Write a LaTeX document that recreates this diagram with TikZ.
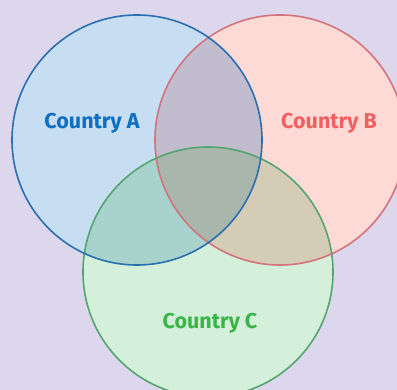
\documentclass[tikz,border=0pt]{standalone}
\usepackage{fontspec}
\setmainfont{Fira Sans}
\definecolor{bgc}{HTML}{DCD7EC}
\definecolor{fillA}{HTML}{C6DDF2}
\definecolor{fillB}{HTML}{FDDAD6}
\definecolor{fillC}{HTML}{D4EFDA}
\definecolor{fillAB}{HTML}{C2BCCF}
\definecolor{fillAC}{HTML}{A8D2CC}
\definecolor{fillBC}{HTML}{D5CCB5}
\definecolor{fillABC}{HTML}{A8B6AC}
\definecolor{lineA}{HTML}{2A6FB0}
\definecolor{lineB}{HTML}{D4737C}
\definecolor{lineC}{HTML}{55A570}
\definecolor{textA}{HTML}{0E6EC2}
\definecolor{textB}{HTML}{F0605E}
\definecolor{textC}{HTML}{3AB548}
\tikzset{
  setline/.style={line width=1.6pt},
  setlabel/.style={font=\bfseries\fontsize{21.5}{24}\selectfont, inner sep=0pt}
}
\begin{document}
\begin{tikzpicture}[x=1pt,y=-1pt]
  \fill[bgc] (0,0) rectangle (397,390);
  \useasboundingbox (0,0) rectangle (397,390);
  \clip (0,0) rectangle (397,390);
  % circle centres
  \coordinate (cA) at (137,140);
  \coordinate (cB) at (280,140);
  \coordinate (cC) at (208,272);
  \def\rad{125}
  % single regions
  \fill[fillA] (cA) circle (\rad);
  \fill[fillB] (cB) circle (\rad);
  \fill[fillC] (cC) circle (\rad);
  % pairwise overlaps
  \begin{scope}
    \clip (cA) circle (\rad);
    \fill[fillAB] (cB) circle (\rad);
  \end{scope}
  \begin{scope}
    \clip (cA) circle (\rad);
    \fill[fillAC] (cC) circle (\rad);
  \end{scope}
  \begin{scope}
    \clip (cB) circle (\rad);
    \fill[fillBC] (cC) circle (\rad);
  \end{scope}
  % triple overlap
  \begin{scope}
    \clip (cA) circle (\rad);
    \clip (cB) circle (\rad);
    \fill[fillABC] (cC) circle (\rad);
  \end{scope}
  % outlines
  \draw[setline, lineB] (cB) circle (\rad);
  \draw[setline, lineC] (cC) circle (\rad);
  \draw[setline, lineA] (cA) circle (\rad);
  % labels
  \node[setlabel, text=textA] (labA) at (92,123) {Country A};
  \node[setlabel, text=textB] (labB) at (329,123) {Country B};
  \node[setlabel, text=textC] (labC) at (210,323) {Country C};
\end{tikzpicture}
\end{document}
